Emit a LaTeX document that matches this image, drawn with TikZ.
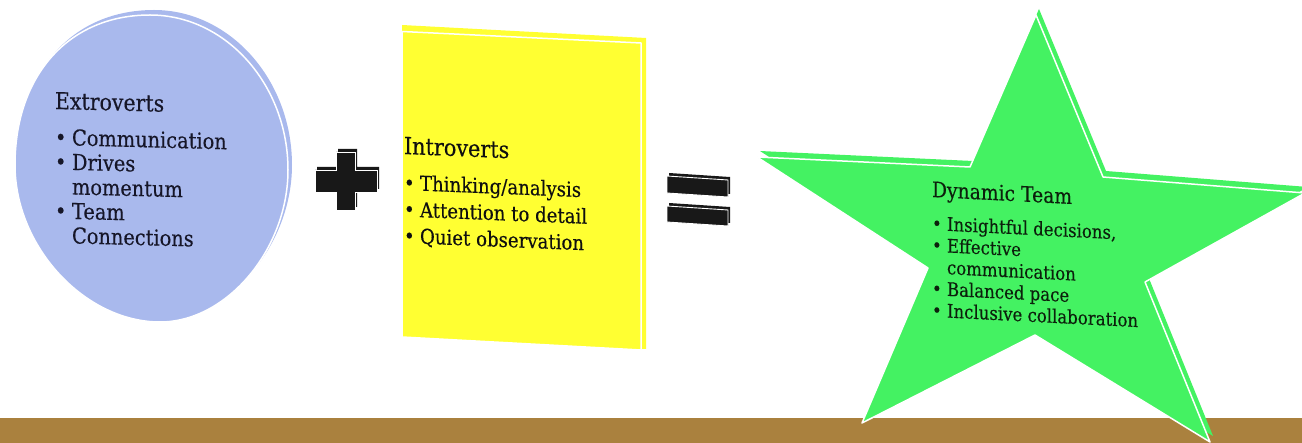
\documentclass[tikz,border=0pt]{standalone}
\usepackage{fontspec}
\setmainfont{DejaVu Serif}[FakeStretch=0.88,FakeBold=0.3]
\usepackage{array}
\definecolor{bandbrown}{RGB}{170,129,62}
\definecolor{discblue}{RGB}{169,185,237}
\definecolor{boxyellow}{RGB}{255,255,50}
\definecolor{stargreen}{RGB}{68,242,98}
\definecolor{symblack}{RGB}{24,24,24}
\definecolor{txtnavy}{RGB}{22,22,40}
\definecolor{txtblack}{RGB}{15,15,15}
\definecolor{txtgreen}{RGB}{12,32,12}
\tikzset{
  frontface/.style={draw=white, line width=1.5pt, line join=round},
  symfront/.style={fill=symblack, draw=white, line width=0.9pt, line join=miter},
  symback/.style={fill=symblack},
  textblock/.style={anchor=base west, inner sep=0pt, outer sep=0pt, align=left},
  discpath/.style={insert path={(150,15) .. controls (226,15) and (288,85) .. (288,170)
  .. controls (288,249) and (227,322) .. (160,322)
  .. controls (85,322) and (15,247) .. (15,165)
  .. controls (15,75) and (69,15) .. (150,15) -- cycle}},
}
\begin{document}
\begin{tikzpicture}[x=1pt,y=-1pt]
\useasboundingbox (0,0) rectangle (1302,443);
% ground band
\fill[bandbrown] (0,418) rectangle (1302,443);

% ---- disc (Extroverts)
\fill[discblue, shift={(4,-5)}, discpath];
\filldraw[discblue, frontface, discpath];
\node[textblock, text=txtnavy, yslant=-0.025] (extxt) at (55,109) {\fontsize{22}{24.5}\selectfont
\begin{tabular}[t]{@{}p{17pt}@{}l@{}}
\multicolumn{2}{@{}l@{}}{\fontsize{23.3}{24.5}\selectfont Extroverts}\\[11.5pt]
\textbullet & Communication\\
\textbullet & Drives\\
 & momentum\\
\textbullet & Team\\
 & Connections
\end{tabular}};

% ---- plus sign
\fill[symback] (338,149) -- (357,149) -- (357,167) -- (379,167) -- (379,189) -- (357,189) -- (357,207) -- (338,207) -- (338,189) -- (317,189) -- (317,167) -- (338,167) -- cycle;
\filldraw[symfront] (336,152) -- (355,152) -- (355,170) -- (377,170) -- (377,192) -- (355,192) -- (355,210) -- (336,210) -- (336,192) -- (315,192) -- (315,170) -- (336,170) -- cycle;

% ---- yellow board (Introverts)
\fill[boxyellow] (402,25) -- (646,38) -- (646,349) -- (402,337) -- cycle;
\filldraw[boxyellow, frontface] (402,31.5) -- (641,43) -- (641,350) -- (402,337) -- cycle;
\node[textblock, text=txtblack, yslant=-0.04] (intxt) at (404,154) {\fontsize{20.6}{26.5}\selectfont
\begin{tabular}[t]{@{}p{16pt}@{}l@{}}
\multicolumn{2}{@{}l@{}}{\fontsize{23.6}{26.5}\selectfont Introverts}\\[9.5pt]
\textbullet & Thinking/analysis\\
\textbullet & Attention to detail\\
\textbullet & Quiet observation
\end{tabular}};

% ---- equals sign
\fill[symback] (669,173) -- (730,177) -- (730,194) -- (669,190) -- cycle;
\filldraw[symfront] (667,176) -- (728,180) -- (728,197) -- (667,193) -- cycle;
\fill[symback] (669,203) -- (730,207) -- (730,223) -- (669,219) -- cycle;
\filldraw[symfront] (667,206) -- (728,210) -- (728,226) -- (667,222) -- cycle;

% ---- star (Dynamic Team)
\fill[stargreen] (1039,9) -- (1106,171) -- (1308,187) -- (1148,276) -- (1213,436) -- (1038,329) -- (865,417) -- (931,262) -- (760,151) -- (973,161) -- cycle;
\filldraw[stargreen, frontface] (1036,15) -- (1103,177) -- (1305,193) -- (1145,282) -- (1210,442) -- (1035,335) -- (862,423) -- (928,268) -- (757,157) -- (970,167) -- cycle;
\node[textblock, text=txtgreen, yslant=-0.05] (sttxt) at (932,197) {\fontsize{18.8}{21.7}\selectfont
\begin{tabular}[t]{@{}p{15pt}@{}l@{}}
\multicolumn{2}{@{}l@{}}{\fontsize{21.3}{21.7}\selectfont Dynamic Team}\\[11.3pt]
\textbullet & Insightful decisions,\\
\textbullet & Effective\\
 & communication\\
\textbullet & Balanced pace\\
\textbullet & Inclusive collaboration
\end{tabular}};
\end{tikzpicture}
\end{document}
